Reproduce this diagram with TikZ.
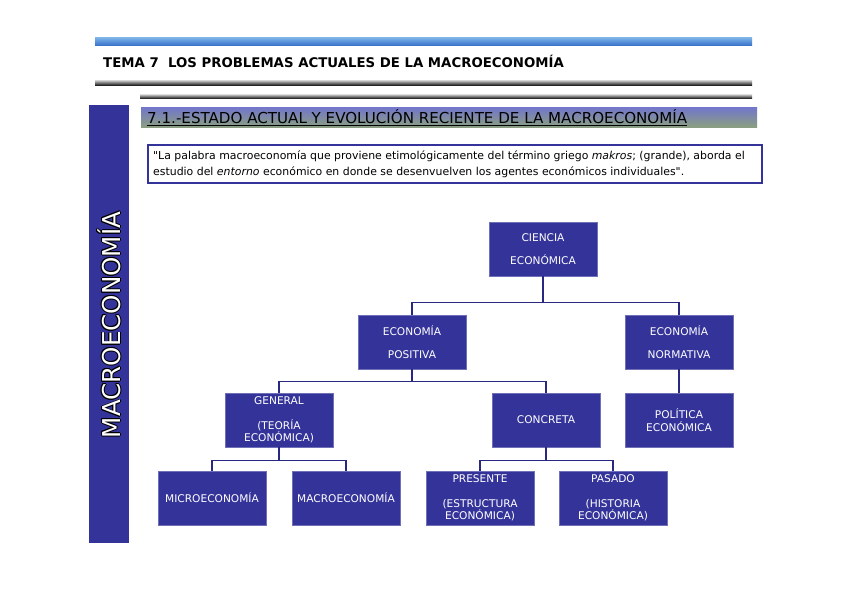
\documentclass[tikz,border=0pt]{standalone}
\usepackage{fontspec}
\setmainfont{DejaVu Sans}
\definecolor{boxblue}{RGB}{51,51,153}
\definecolor{lineblue}{RGB}{40,40,130}
\begin{document}
\begin{tikzpicture}[x=1pt,y=-1pt,
  ebox/.style={draw=boxblue!70!white,line width=0.6pt,fill=boxblue,text=white,minimum width=108pt,minimum height=54pt,inner sep=1pt,align=center,font=\fontsize{10.6}{12.5}\selectfont},
  conn/.style={draw=lineblue,line width=1.6pt},
  sidetext/.style={rotate=90,font=\fontsize{24.6}{28}\selectfont,inner sep=0}]
\useasboundingbox (0,0) rectangle (848,599);
\fill[white] (0,0) rectangle (848,599);
% top bar
\shade[top color={rgb,255:red,120;green,175;blue,230},bottom color={rgb,255:red,50;green,110;blue,200}] (95,38) rectangle (752,46);
\node[anchor=base west,inner sep=0,font=\fontsize{13.3}{15}\selectfont\bfseries] (title) at (103,68) {TEMA 7\ \ LOS PROBLEMAS ACTUALES DE LA MACROECONOMÍA};
\shade[top color=gray!60,bottom color=black] (95,81) rectangle (752,86);
\shade[top color=gray!60,bottom color=black] (140,95) rectangle (752,99);
% left bar
\fill[boxblue] (89,105) rectangle (129,543);
\foreach \dx/\dy in {0.9/0,-0.9/0,0/0.9,0/-0.9,0.65/0.65,-0.65/0.65,0.65/-0.65,-0.65/-0.65}
  \node[sidetext,text=black] at (109+\dx,325+\dy) {MACROECONOMÍA};
\node[sidetext,text=white] (side) at (109,325) {MACROECONOMÍA};
% section header
\shade[top color={rgb,255:red,115;green,120;blue,200},bottom color={rgb,255:red,140;green,160;blue,125}] (141,108) rectangle (757,128);
\node[anchor=base west,inner sep=0,font=\fontsize{15.1}{16}\selectfont] (sect) at (147,124) {\underline{7.1.-ESTADO ACTUAL Y EVOLUCIÓN RECIENTE DE LA MACROECONOMÍA}};
% quote
\draw[boxblue,line width=2pt,fill=white] (148,145) rectangle (762,183);
\node[anchor=north west,inner sep=0,font=\fontsize{10.9}{16}\selectfont,align=left] (quote) at (153,151) {\textquotedbl La palabra macroeconomía que proviene etimológicamente del término griego \textit{makros}; (grande), aborda el\\estudio del \textit{entorno} económico en donde se desenvuelven los agentes económicos individuales\textquotedbl.};
% nodes
\node[ebox] (ciencia) at (543,249) {CIENCIA\\[11pt]ECONÓMICA};
\node[ebox] (pos) at (412,342) {ECONOMÍA\\[11pt]POSITIVA};
\node[ebox] (norm) at (679,342) {ECONOMÍA\\[11pt]NORMATIVA};
\node[ebox] (gen) at (279,420) {GENERAL\\[12pt](TEORÍA\\ECONÓMICA)};
\node[ebox] (conc) at (546,420) {CONCRETA};
\node[ebox] (pol) at (679,420) {POLÍTICA\\ECONÓMICA};
\node[ebox] (micro) at (212,498) {MICROECONOMÍA};
\node[ebox] (macro) at (346,498) {MACROECONOMÍA};
\node[ebox] (pres) at (480,498) {PRESENTE\\[12pt](ESTRUCTURA\\ECONÓMICA)};
\node[ebox] (pas) at (613,498) {PASADO\\[12pt](HISTORIA\\ECONÓMICA)};
% connectors
\draw[conn] (ciencia.south) -- ++(0,26) coordinate (c1);
\draw[conn] (pos.north) |- (c1) -| (norm.north);
\draw[conn] (pos.south) -- ++(0,12) coordinate (c2);
\draw[conn] (gen.north) |- (c2) -| (conc.north);
\draw[conn] (norm.south) -- (pol.north);
\draw[conn] (gen.south) -- ++(0,13) coordinate (c3);
\draw[conn] (micro.north) |- (c3) -| (macro.north);
\draw[conn] (conc.south) -- ++(0,13) coordinate (c4);
\draw[conn] (pres.north) |- (c4) -| (pas.north);
\end{tikzpicture}
\end{document}
